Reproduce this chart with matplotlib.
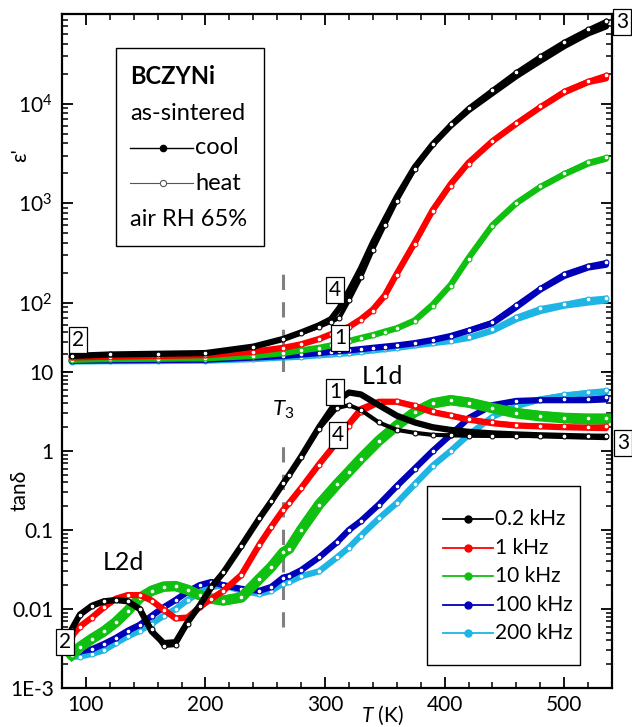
import matplotlib
matplotlib.use("Agg")
import matplotlib.pyplot as plt
from matplotlib.lines import Line2D
from matplotlib.patches import Rectangle
from matplotlib.ticker import FixedLocator, FixedFormatter, LogLocator, NullFormatter, MultipleLocator

plt.rcParams['font.family'] = ['Lato', 'DejaVu Sans']
plt.rcParams['mathtext.fontset'] = 'custom'
plt.rcParams['mathtext.rm'] = 'Lato'
plt.rcParams['mathtext.it'] = 'Lato:italic'
plt.rcParams['font.size'] = 14

# ---------------- data ----------------
freqs = ['0.2 kHz', '1 kHz', '10 kHz', '100 kHz', '200 kHz']
colors = ['#000000', '#ff0000', '#10c010', '#0000b8', '#1eb4e4']
T3 = 265

# top panel: permittivity eps'
T_top = [88, 120, 160, 200, 240, 265, 280, 295, 305, 312, 320, 330, 340, 350,
         360, 375, 390, 405, 420, 440, 460, 480, 500, 520, 535]
eps_cool_02 = [29, 30, 30.5, 31, 36, 43, 50, 59, 68, 88, 130, 220, 400, 680,
               1150, 2300, 3900, 6000, 8600, 12800, 19000, 27000, 38000, 51000, 60000]
eps_heat_02 = [29, 30, 30.5, 31, 36, 43, 49, 57, 64, 70, 105, 180, 340, 600,
               1050, 2200, 3900, 6200, 9100, 13800, 20800, 30000, 42000, 56000, 68000]
eps_cool_1 = [28, 28.5, 29, 29.5, 32, 35, 38, 43, 48, 52, 57, 68, 85, 118,
              195, 400, 850, 1550, 2550, 4200, 6300, 9200, 13000, 16500, 18000]
eps_heat_1 = [28, 28.5, 29, 29.5, 32, 35, 38, 43, 48, 52, 57, 67, 83, 115,
              190, 390, 830, 1500, 2500, 4250, 6400, 9400, 13500, 17000, 19500]
eps_cool_10 = [26.5, 27, 27.2, 27.5, 29, 31, 33, 35, 37, 39, 41, 44, 47, 51,
               55, 66, 95, 150, 280, 600, 1000, 1450, 1950, 2500, 2800]
eps_heat_10 = [26.5, 27, 27.2, 27.5, 29, 31, 33, 35, 37, 39, 41, 44, 47, 51,
               55, 65, 93, 148, 275, 590, 1010, 1480, 2000, 2600, 2900]
eps_cool_100 = [26, 26.2, 26.4, 26.6, 28, 29, 30, 31, 32, 32.5, 33, 34, 35, 36,
                37, 39, 42, 46, 52, 62, 90, 135, 185, 225, 240]
eps_heat_100 = [26, 26.2, 26.4, 26.6, 28, 29, 30, 31, 32, 32.5, 33, 34, 35, 36,
                37, 39, 42, 46, 53, 64, 95, 140, 195, 235, 255]
eps_cool_200 = [25.5, 25.7, 25.8, 26, 27, 28, 28.5, 29.5, 30, 30.5, 31, 32, 33, 34,
                35, 37, 39, 41, 44, 52, 68, 82, 93, 100, 105]
eps_heat_200 = [25.5, 25.7, 25.8, 26, 27, 28, 28.5, 29.5, 30, 30.5, 31, 32, 33, 34,
                35, 37, 39, 41, 45, 54, 72, 88, 97, 108, 112]

# bottom panel: loss tangent
T_bot = [88, 95, 105, 115, 125, 135, 145, 155, 165, 175, 185, 195, 205, 215, 230,
         245, 255, 265, 270, 280, 295, 310, 320, 330, 345, 360, 375, 390, 405, 420,
         440, 460, 480, 500, 520, 535]
tan_cool_02 = [0.0055, 0.0085, 0.011, 0.0125, 0.013, 0.0125, 0.0100, 0.0052, 0.0037, 0.0038,
               0.0068, 0.011, 0.019, 0.029, 0.063, 0.14, 0.23, 0.39, 0.5, 0.85,
               2.0, 4.3, 5.5, 5.2, 3.8, 2.8, 2.3, 2.0, 1.85, 1.75,
               1.67, 1.62, 1.58, 1.55, 1.52, 1.5]
tan_heat_02 = [0.0055, 0.0085, 0.011, 0.0125, 0.013, 0.0125, 0.0100, 0.0056, 0.0034, 0.0035,
               0.0065, 0.011, 0.019, 0.029, 0.063, 0.14, 0.23, 0.39, 0.5, 0.85,
               1.9, 3.5, 3.8, 3.3, 2.3, 1.85, 1.7, 1.6, 1.58, 1.56,
               1.55, 1.55, 1.55, 1.55, 1.55, 1.56]
tan_cool_1 = [0.0045, 0.006, 0.0078, 0.0105, 0.0135, 0.015, 0.015, 0.0128, 0.0098, 0.0076,
              0.0078, 0.0105, 0.0135, 0.017, 0.027, 0.065, 0.11, 0.18, 0.22, 0.34,
              0.68, 1.3, 2.2, 3.4, 4.2, 4.2, 3.7, 3.1, 2.8, 2.5,
              2.25, 2.1, 2.05, 2.0, 1.97, 1.95]
tan_heat_1 = [0.0045, 0.006, 0.0078, 0.0105, 0.0135, 0.015, 0.015, 0.0128, 0.0098, 0.0076,
              0.0078, 0.0105, 0.0135, 0.017, 0.027, 0.065, 0.11, 0.18, 0.22, 0.34,
              0.66, 1.25, 2.1, 3.1, 4.0, 4.3, 3.8, 3.2, 2.85, 2.55,
              2.3, 2.15, 2.1, 2.05, 2.0, 2.05]
tan_cool_10 = [0.0026, 0.0033, 0.0042, 0.0052, 0.0068, 0.0095, 0.0138, 0.017, 0.0192, 0.0195,
               0.0175, 0.015, 0.0135, 0.0128, 0.014, 0.024, 0.034, 0.052, 0.058, 0.1,
               0.21, 0.38, 0.55, 0.8, 1.35, 2.1, 3.1, 4.0, 4.4, 4.1,
               3.5, 3.0, 2.75, 2.6, 2.5, 2.5]
tan_heat_10 = [0.0026, 0.0033, 0.0042, 0.0052, 0.0068, 0.0095, 0.0138, 0.017, 0.0192, 0.0195,
               0.0175, 0.015, 0.0135, 0.0128, 0.014, 0.024, 0.034, 0.052, 0.058, 0.1,
               0.21, 0.38, 0.55, 0.8, 1.35, 2.1, 3.1, 4.0, 4.4, 4.1,
               3.5, 3.05, 2.8, 2.65, 2.6, 2.6]
tan_cool_100 = [0.0029, 0.0029, 0.0031, 0.0036, 0.0043, 0.0053, 0.0063, 0.0082, 0.0105, 0.013,
                0.0165, 0.02, 0.022, 0.02, 0.018, 0.017, 0.019, 0.025, 0.026, 0.031,
                0.045, 0.07, 0.1, 0.13, 0.21, 0.36, 0.6, 1.0, 1.6, 2.6,
                3.8, 4.3, 4.4, 4.4, 4.4, 4.5]
tan_heat_100 = [0.0029, 0.0029, 0.0031, 0.0036, 0.0043, 0.0053, 0.0063, 0.0082, 0.0105, 0.013,
                0.0165, 0.02, 0.022, 0.02, 0.018, 0.017, 0.019, 0.025, 0.026, 0.031,
                0.045, 0.07, 0.1, 0.13, 0.21, 0.36, 0.6, 1.0, 1.6, 2.6,
                3.8, 4.3, 4.45, 4.5, 4.6, 4.8]
tan_cool_200 = [0.0025, 0.0025, 0.0027, 0.003, 0.0037, 0.0045, 0.0053, 0.0065, 0.0082, 0.01,
                0.013, 0.016, 0.019, 0.02, 0.017, 0.0155, 0.017, 0.021, 0.022, 0.026,
                0.03, 0.045, 0.06, 0.085, 0.14, 0.22, 0.38, 0.65, 1.0, 1.6,
                2.7, 3.7, 4.5, 5.0, 5.4, 5.6]
tan_heat_200 = [0.0025, 0.0025, 0.0027, 0.003, 0.0037, 0.0045, 0.0053, 0.0065, 0.0082, 0.01,
                0.013, 0.016, 0.019, 0.02, 0.017, 0.0155, 0.017, 0.021, 0.022, 0.026,
                0.03, 0.045, 0.06, 0.085, 0.14, 0.22, 0.38, 0.65, 1.0, 1.6,
                2.7, 3.7, 4.6, 5.2, 5.6, 5.9]

eps_cool = [eps_cool_02, eps_cool_1, eps_cool_10, eps_cool_100, eps_cool_200]
eps_heat = [eps_heat_02, eps_heat_1, eps_heat_10, eps_heat_100, eps_heat_200]
tan_cool = [tan_cool_02, tan_cool_1, tan_cool_10, tan_cool_100, tan_cool_200]
tan_heat = [tan_heat_02, tan_heat_1, tan_heat_10, tan_heat_100, tan_heat_200]

# ---------------- figure ----------------
W, H = 632, 727
fig = plt.figure(figsize=(W / 100, H / 100), dpi=100)
L, R = 62 / W, 612 / W
ax1 = fig.add_axes([L, (H - 372) / H, R - L, (372 - 14) / H])
ax2 = fig.add_axes([L, (H - 688) / H, R - L, (688 - 372) / H])

order = [4, 3, 2, 1, 0]
for ax, Tg, cool, heat in [(ax1, T_top, eps_cool, eps_heat), (ax2, T_bot, tan_cool, tan_heat)]:
    for i in order:
        c = colors[i]
        lw_c, lw_h = 4.5, 3.0
        if ax is ax2 and i == 2:
            lw_c, lw_h = 7.5, 7.0
        ax.plot(Tg, cool[i], '-', color=c, lw=lw_c, solid_capstyle='round',
                solid_joinstyle='round', zorder=2 + (4 - i))
        ax.plot(Tg, heat[i], '-', color=c, lw=lw_h, marker='o', ms=3.5,
                mfc='white', mec=c, mew=0.8, solid_joinstyle='round',
                zorder=2.5 + (4 - i))

for ax in (ax1, ax2):
    ax.set_yscale('log')
    ax.set_xlim(80, 540)
    ax.xaxis.set_major_locator(MultipleLocator(100))
    ax.xaxis.set_minor_locator(MultipleLocator(20))
    ax.tick_params(which='major', direction='in', length=8, width=1.3, labelsize=15)
    ax.tick_params(which='minor', direction='in', length=4.5, width=1.1)
    for s in ax.spines.values():
        s.set_linewidth(1.6)

ax1.set_ylim(20, 8e4)
ax1.set_yticks([1e2, 1e3, 1e4])
ax1.set_yticklabels(['10$^{2}$', '10$^{3}$', '10$^{4}$'])
ax1.spines['bottom'].set_visible(False)
ax1.tick_params(which='both', top=True, bottom=False, left=True, right=True,
                labelbottom=False)
ax1.tick_params(axis='y', which='major', pad=7)
ax1.set_ylabel("ε'", fontsize=15)
ax1.yaxis.set_label_coords((30 - 62) / 550, (372 - 155) / 358)

ax2.set_ylim(1e-3, 10)
ax2.yaxis.set_major_locator(FixedLocator([1e-3, 1e-2, 1e-1, 1, 10]))
ax2.yaxis.set_major_formatter(FixedFormatter(['1E-3', '0.01', '0.1', '1', '10']))
ax2.yaxis.set_minor_locator(LogLocator(base=10, subs=range(2, 10)))
ax2.yaxis.set_minor_formatter(NullFormatter())
ax2.spines['top'].set_visible(False)
ax2.tick_params(which='both', top=False, bottom=True, left=True, right=True)
ax2.tick_params(axis='y', which='major', pad=6)
ax2.tick_params(axis='x', which='major', pad=5)
ax2.set_ylabel('tanδ', fontsize=15)
ax2.yaxis.set_label_coords((30 - 62) / 550, (688 - 490) / 316)
ax2.set_xlabel('$\\mathit{T}$ (K)', fontsize=15)
ax2.xaxis.set_label_coords((382 - 62) / 550, (688 - 704) / 316)

# T3 dashed line
ax1.axvline(T3, ymin=0, ymax=(372 - 267) / 358, color='#808080', lw=2.2,
            dashes=(5, 4), zorder=1)
ax2.axvline(T3, ymin=(688 - 627) / 316, ymax=(688 - 438) / 316, color='#808080',
            lw=2.2, dashes=(5, 4), zorder=1)


def fx(px):
    return (px - 62) / 550


def fy1(py):
    return (372 - py) / 358


def fy2(py):
    return (688 - py) / 316


# ---- top info box ----
ax1.add_patch(Rectangle((fx(116), fy1(246)), fx(264) - fx(116), fy1(48) - fy1(246),
                        transform=ax1.transAxes, fill=True, fc='white', ec='black',
                        lw=1.0, zorder=20))
ax1.text(fx(130), fy1(77), 'BCZYNi', transform=ax1.transAxes, fontweight='bold',
         fontsize=17, va='center', ha='left', zorder=21)
ax1.text(fx(130), fy1(113), 'as-sintered', transform=ax1.transAxes,
         fontsize=17, va='center', ha='left', zorder=21)
ax1.add_line(Line2D([fx(130), fx(193)], [fy1(148), fy1(148)], transform=ax1.transAxes,
                    color='black', lw=1.0, zorder=21))
ax1.add_line(Line2D([fx(163)], [fy1(148)], transform=ax1.transAxes, color='black',
                    marker='o', ms=4.5, mfc='black', zorder=22))
ax1.text(fx(195), fy1(148), 'cool', transform=ax1.transAxes, fontsize=17,
         va='center', ha='left', zorder=21)
ax1.add_line(Line2D([fx(130), fx(193)], [fy1(183), fy1(183)], transform=ax1.transAxes,
                    color='#555555', lw=0.8, zorder=21))
ax1.add_line(Line2D([fx(163)], [fy1(183)], transform=ax1.transAxes, color='#555555',
                    marker='o', ms=4.5, mfc='white', mew=0.8, zorder=22))
ax1.text(fx(195), fy1(183), 'heat', transform=ax1.transAxes, fontsize=17,
         va='center', ha='left', zorder=21)
ax1.text(fx(130), fy1(220), 'air RH 65%', transform=ax1.transAxes,
         fontsize=17, va='center', ha='left', zorder=21)

# ---- bottom legend box ----
ax2.add_patch(Rectangle((fx(427), fy2(665)), fx(580) - fx(427), fy2(486) - fy2(665),
                        transform=ax2.transAxes, fc='white', ec='black', lw=1.0, zorder=20))
leg_y = [519, 548, 576, 605, 633]
for i, lab in enumerate(freqs):
    ax2.add_line(Line2D([fx(443), fx(493)], [fy2(leg_y[i])] * 2, transform=ax2.transAxes,
                        color=colors[i], lw=1.3, zorder=21))
    ax2.add_line(Line2D([fx(468)], [fy2(leg_y[i])], transform=ax2.transAxes,
                        color=colors[i], marker='o', ms=5, mfc=colors[i], zorder=22))
    ax2.text(fx(495), fy2(leg_y[i]), lab, transform=ax2.transAxes, fontsize=15,
             va='center', ha='left', zorder=21)

# ---- annotations ----
box = dict(boxstyle='square,pad=0.15', fc='white', ec='black', lw=0.9)


def ftxt(px, py, s):
    fig.text(px / W, 1 - py / H, s, ha='center', va='center', fontsize=15,
             bbox=box, zorder=30)


ftxt(622, 22, '3')
ftxt(335, 290, '4')
ftxt(340, 338, '1')
ftxt(78, 340, '2')
ftxt(335, 392, '1')
ftxt(338, 435, '4')
ftxt(623, 443, '3')
ftxt(65, 642, '2')

fig.text(382 / W, 1 - 376 / H, 'L1d', ha='center', va='center', fontsize=18)
fig.text(123 / W, 1 - 563 / H, 'L2d', ha='center', va='center', fontsize=18)
fig.text(283 / W, 1 - 410 / H, '$\\mathit{T}_{3}$', ha='center', va='center', fontsize=16)

fig.savefig('out.png', dpi=100)
